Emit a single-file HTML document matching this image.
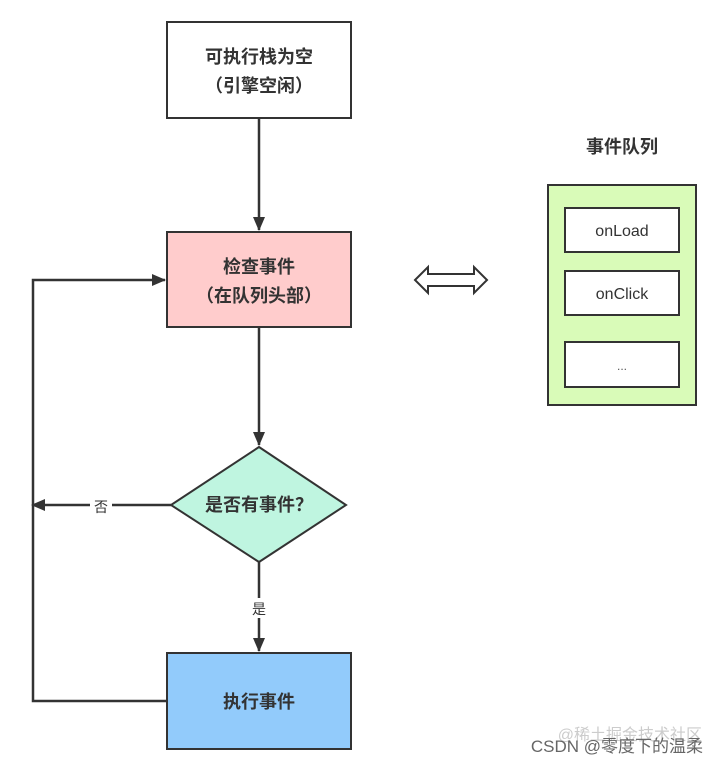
<!DOCTYPE html>
<html><head><meta charset="utf-8"><style>
body{margin:0;background:#fff;}
svg text{font-family:"Liberation Sans","Noto Sans CJK SC",sans-serif;}
</style></head><body>
<svg width="715" height="763" viewBox="0 0 715 763" xmlns="http://www.w3.org/2000/svg">
<defs><marker id="b" markerWidth="14" markerHeight="12" refX="13" refY="6" orient="auto" markerUnits="userSpaceOnUse"><path d="M0,0 L14,6 L0,12 Z" fill="#333"/></marker></defs>
<g stroke="#333" stroke-width="2.5" fill="none">
<line x1="259" y1="118" x2="259" y2="230" marker-end="url(#b)"/>
<line x1="259" y1="327" x2="259" y2="445" marker-end="url(#b)"/>
<line x1="259" y1="562" x2="259" y2="651" marker-end="url(#b)"/>
<line x1="171" y1="505" x2="32" y2="505" marker-end="url(#b)"/>
<polyline points="167,701 33,701 33,280 165,280" marker-end="url(#b)"/>
</g>
<rect x="167" y="22" width="184" height="96" fill="#fff" stroke="#333" stroke-width="2"/>
<text x="259" y="63" text-anchor="middle" font-size="18" font-weight="bold" fill="#333">可执行栈为空</text>
<text x="259" y="92" text-anchor="middle" font-size="18" font-weight="bold" fill="#333">（引擎空闲）</text>
<rect x="167" y="232" width="184" height="95" fill="#ffcccc" stroke="#333" stroke-width="2"/>
<text x="259" y="273" text-anchor="middle" font-size="18" font-weight="bold" fill="#333">检查事件</text>
<text x="259" y="302" text-anchor="middle" font-size="18" font-weight="bold" fill="#333">（在队列头部）</text>
<polygon points="259,447 346,505 259,562 171,505" fill="#bff5e0" stroke="#333" stroke-width="2"/>
<text x="259" y="511" text-anchor="middle" font-size="18" font-weight="bold" fill="#333">是否有事件？</text>
<rect x="90" y="495" width="22" height="20" fill="#fff"/>
<text x="101" y="512" text-anchor="middle" font-size="14" fill="#333">否</text>
<rect x="248" y="598" width="22" height="20" fill="#fff"/>
<text x="259" y="614" text-anchor="middle" font-size="14" fill="#333">是</text>
<rect x="167" y="653" width="184" height="96" fill="#92cbfb" stroke="#333" stroke-width="2"/>
<text x="259" y="708" text-anchor="middle" font-size="18" font-weight="bold" fill="#333">执行事件</text>
<path d="M415,280 L428,267 L428,274 L474,274 L474,267 L487,280 L474,293 L474,286 L428,286 L428,293 Z" fill="#fff" stroke="#333" stroke-width="2"/>
<text x="622" y="153" text-anchor="middle" font-size="18" font-weight="bold" fill="#333">事件队列</text>
<rect x="548" y="185" width="148" height="220" fill="#d9fbb8" stroke="#333" stroke-width="2"/>
<rect x="565" y="208" width="114" height="44" fill="#fff" stroke="#333" stroke-width="2"/>
<text x="622" y="236" text-anchor="middle" font-size="16" fill="#333">onLoad</text>
<rect x="565" y="271" width="114" height="44" fill="#fff" stroke="#333" stroke-width="2"/>
<text x="622" y="299" text-anchor="middle" font-size="16" fill="#333">onClick</text>
<rect x="565" y="342" width="114" height="45" fill="#fff" stroke="#333" stroke-width="2"/>
<text x="622" y="370" text-anchor="middle" font-size="12" fill="#555">...</text>
<text x="702" y="740" text-anchor="end" font-size="16" fill="#ccc">@稀土掘金技术社区</text>
<text x="703" y="752" text-anchor="end" font-size="17" fill="#666">CSDN @零度下的温柔</text>
</svg>
</body></html>
